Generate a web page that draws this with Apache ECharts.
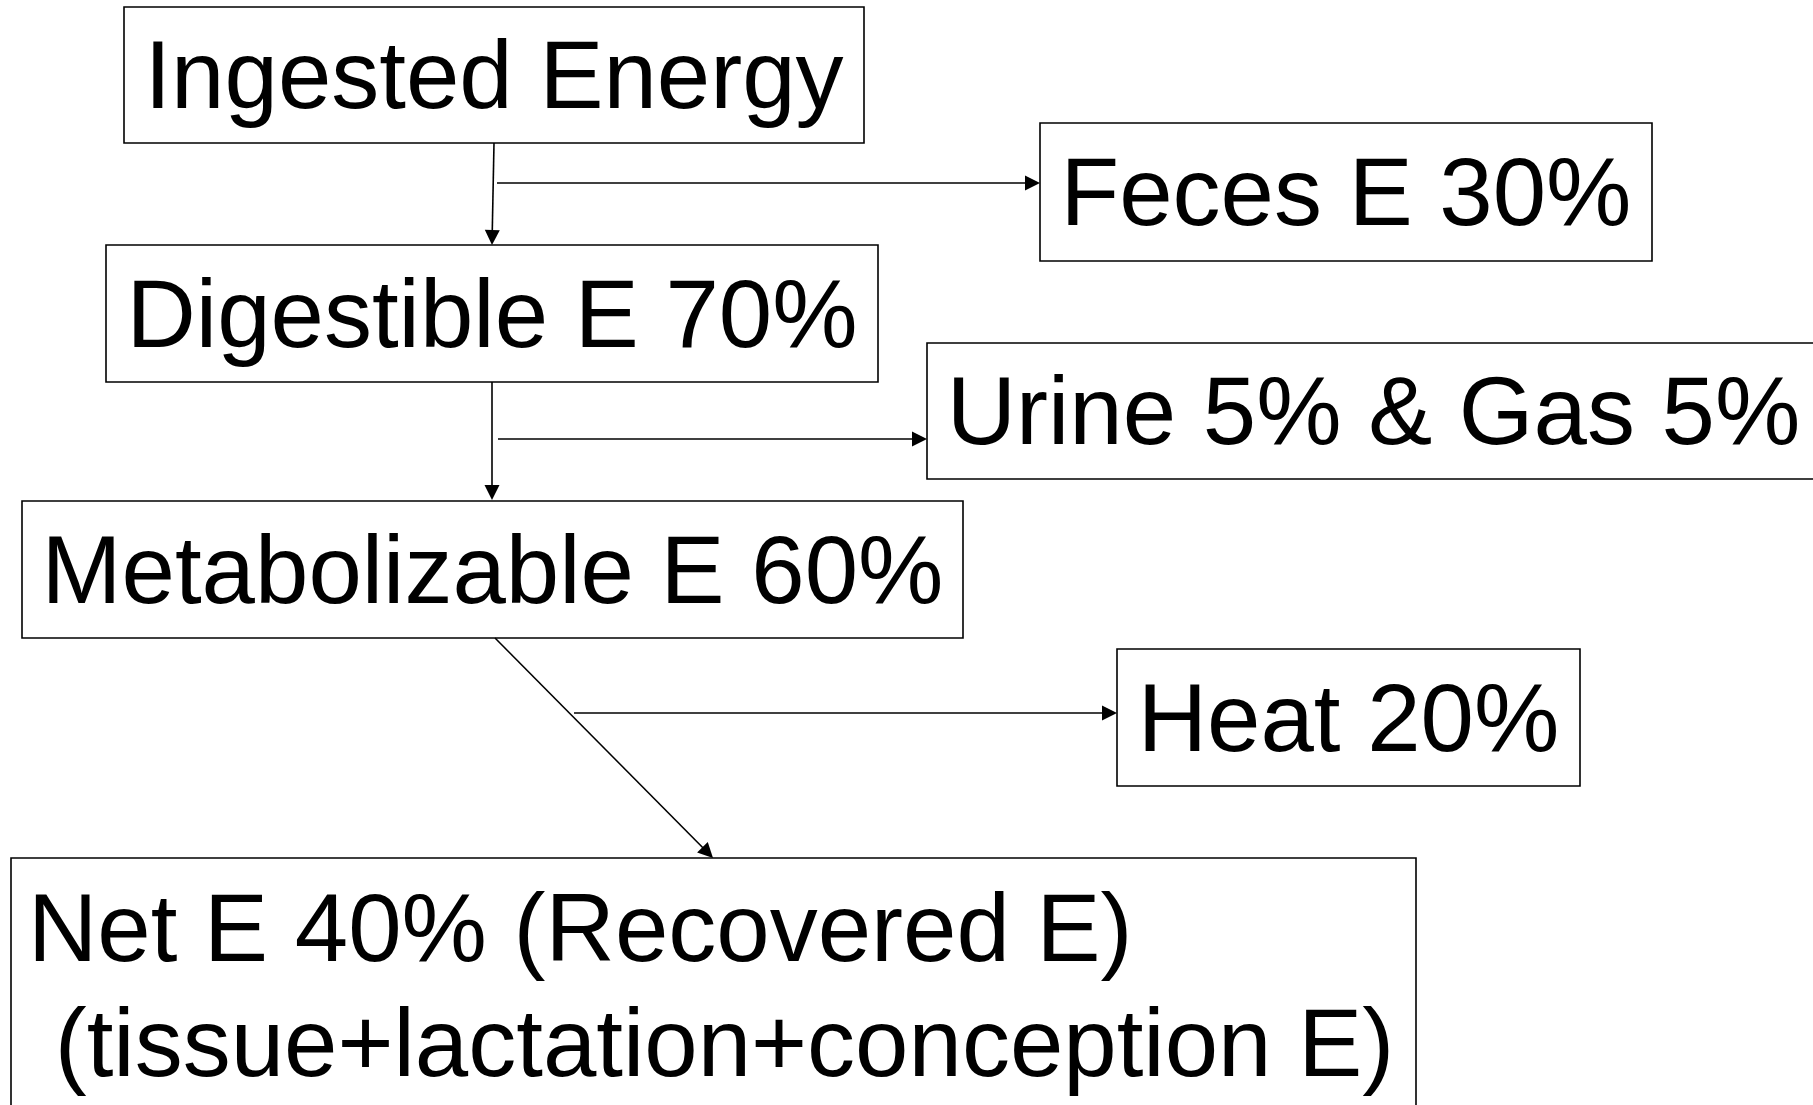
<!DOCTYPE html>
<html>
<head>
<meta charset="utf-8">
<script src="https://cdn.jsdelivr.net/npm/echarts@6/dist/echarts.min.js"></script>
<style>
html,body{margin:0;padding:0;background:#fff;}
#chart{width:1813px;height:1105px;}
</style>
</head>
<body>
<div id="chart"></div>
<script>
// Boxes (diagram node labels and their extents in diagram units)
const boxLabels = [
  'Ingested Energy',
  'Feces E 30%',
  'Digestible E 70%',
  'Urine 5% & Gas 5%',
  'Metabolizable E 60%',
  'Heat 20%',
  'Net E 40% (Recovered E)\n (tissue+lactation+conception E)'
];
const boxAlign = ['center','center','center','center','center','center','left'];
const boxX0 = [124, 1040, 106, 927, 22, 1117, 11];
const boxY0 = [7, 123, 245, 343, 501, 649, 858];
const boxX1 = [864, 1652, 878, 1820, 963, 1580, 1416];
const boxY1 = [143, 261, 382, 479, 638, 786, 1140];

// Arrows (start -> end, end carries the arrowhead)
const edgeX0 = [494, 497, 492, 498, 495, 574];
const edgeY0 = [143, 183, 382, 439, 638, 713];
const edgeX1 = [492, 1040, 492, 927, 713, 1117];
const edgeY1 = [245, 183, 500, 439, 858, 713];

const FONT = '"Liberation Sans", Arial, "DejaVu Sans", sans-serif';

const boxData = boxLabels.map((l, i) => [boxX0[i], boxY0[i], boxX1[i], boxY1[i], i]);
const edgeData = edgeX0.map((x, i) => [x, edgeY0[i], edgeX1[i], edgeY1[i]]);

const chart = echarts.init(document.getElementById('chart'), null, {renderer: 'canvas'});

chart.setOption({
  backgroundColor: '#ffffff',
  animation: false,
  grid: {left: 0, right: 0, top: 0, bottom: 0},
  xAxis: {type: 'value', min: 0, max: 1813, show: false},
  yAxis: {type: 'value', min: 0, max: 1105, inverse: true, show: false},
  series: [
    {
      type: 'custom',
      clip: false,
      silent: true,
      data: boxData,
      renderItem: function (params, api) {
        const p0 = api.coord([api.value(0), api.value(1)]);
        const p1 = api.coord([api.value(2), api.value(3)]);
        const idx = api.value(4);
        const align = boxAlign[idx];
        const children = [{
          type: 'rect',
          shape: {x: p0[0], y: p0[1], width: p1[0] - p0[0], height: p1[1] - p0[1]},
          style: {fill: '#ffffff', stroke: '#000000', lineWidth: 1.6}
        }];
        if (align === 'center') {
          children.push({
            type: 'text',
            style: {
              text: boxLabels[idx],
              x: (p0[0] + p1[0]) / 2,
              y: (p0[1] + p1[1]) / 2 + 7,
              align: 'center',
              verticalAlign: 'middle',
              font: '96px ' + FONT,
              fill: '#000000'
            }
          });
        } else {
          children.push({
            type: 'text',
            style: {
              text: boxLabels[idx],
              x: p0[0] + 17,
              y: p0[1] + 19,
              align: 'left',
              verticalAlign: 'top',
              lineHeight: 115,
              font: '96px ' + FONT,
              fill: '#000000'
            }
          });
        }
        return {type: 'group', children: children};
      }
    },
    {
      type: 'custom',
      clip: false,
      silent: true,
      data: edgeData,
      renderItem: function (params, api) {
        const a = api.coord([api.value(0), api.value(1)]);
        const b = api.coord([api.value(2), api.value(3)]);
        const dx = b[0] - a[0], dy = b[1] - a[1];
        const len = Math.sqrt(dx * dx + dy * dy);
        const ux = dx / len, uy = dy / len;
        const headLen = 15, headHalf = 7.5;
        const bx = b[0] - ux * headLen, by = b[1] - uy * headLen;
        const px = -uy, py = ux;
        return {
          type: 'group',
          children: [
            {
              type: 'line',
              shape: {x1: a[0], y1: a[1], x2: bx + ux * 1, y2: by + uy * 1},
              style: {stroke: '#000000', lineWidth: 1.6}
            },
            {
              type: 'polygon',
              shape: {points: [
                [b[0], b[1]],
                [bx + px * headHalf, by + py * headHalf],
                [bx - px * headHalf, by - py * headHalf]
              ]},
              style: {fill: '#000000'}
            }
          ]
        };
      }
    }
  ]
});
</script>
</body>
</html>
